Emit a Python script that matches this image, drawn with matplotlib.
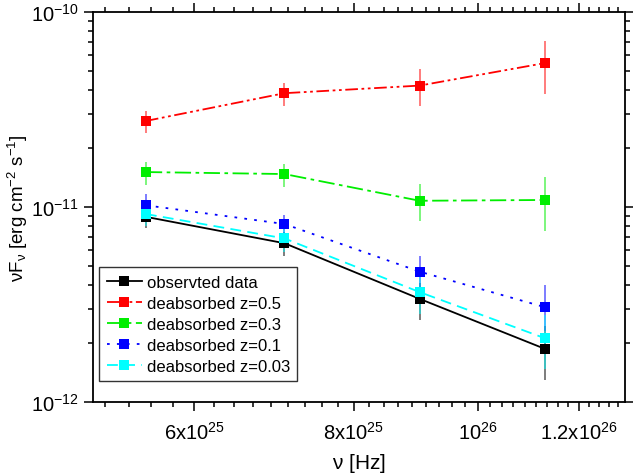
#
# nuFnu spectrum, observed and deabsorbed (log-log)
#
import matplotlib
matplotlib.use('Agg')
import matplotlib.pyplot as plt
from matplotlib.ticker import FixedLocator, FixedFormatter, NullFormatter
from matplotlib.colors import to_rgba
import numpy as np

plt.rcParams['font.family'] = ['Liberation Sans', 'DejaVu Sans']
plt.rcParams['mathtext.fontset'] = 'custom'
plt.rcParams['mathtext.rm'] = 'Liberation Sans'
plt.rcParams['mathtext.it'] = 'Liberation Sans:italic'
plt.rcParams['mathtext.default'] = 'regular'

#
# data
#
freq = [5.50e25, 7.06e25, 9.01e25, 1.13e26]

obs = [8.9e-12, 6.52e-12, 3.38e-12, 1.87e-12]
obs_lo = [7.8e-12, 5.63e-12, 2.63e-12, 1.30e-12]
obs_hi = [1.02e-11, 7.41e-12, 4.1e-12, 2.46e-12]

z05 = [2.76e-11, 3.83e-11, 4.19e-11, 5.47e-11]
z05_lo = [2.39e-11, 3.28e-11, 3.28e-11, 3.79e-11]
z05_hi = [3.12e-11, 4.33e-11, 5.11e-11, 7.13e-11]

z03 = [1.51e-11, 1.475e-11, 1.076e-11, 1.086e-11]
z03_lo = [1.30e-11, 1.27e-11, 8.45e-12, 7.50e-12]
z03_hi = [1.71e-11, 1.67e-11, 1.31e-11, 1.42e-11]

z01 = [1.02e-11, 8.18e-12, 4.66e-12, 3.06e-12]
z01_lo = [8.9e-12, 7.3e-12, 3.8e-12, 2.3e-12]
z01_hi = [1.17e-11, 9.12e-12, 5.62e-12, 3.98e-12]

z003 = [9.2e-12, 6.90e-12, 3.66e-12, 2.12e-12]
z003_lo = [8.0e-12, 5.90e-12, 2.83e-12, 1.47e-12]
z003_hi = [1.06e-11, 7.9e-12, 4.5e-12, 2.79e-12]

labels = ['observted data', 'deabsorbed z=0.5', 'deabsorbed z=0.3',
          'deabsorbed z=0.1', 'deabsorbed z=0.03']

xticks = [6e25, 8e25, 1e26, 1.2e26]
xticklabels = [r'6x10$^{25}$', r'8x10$^{25}$', r'10$^{26}$', r'1.2x10$^{26}$']
yticks = [1e-12, 1e-11, 1e-10]
yticklabels = [r'10$^{-12}$', r'10$^{-11}$', r'10$^{-10}$']

#
# figure
#
fig = plt.figure(figsize=(6.33, 4.77), dpi=100)
ax = fig.add_axes([0.147, 0.155, 0.840, 0.818])

series = [
    (obs, obs_lo, obs_hi, 'black', '-'),
    (z05, z05_lo, z05_hi, '#ff0000', (0, (7, 2, 1.5, 2, 1.5, 2))),
    (z03, z03_lo, z03_hi, '#00ee00', (0, (9, 2.5, 2, 2.5))),
    (z01, z01_lo, z01_hi, '#0000ff', (0, (1.5, 4))),
    (z003, z003_lo, z003_hi, '#00ffff', (0, (6, 3.5))),
]

handles = []
for (y, lo, hi, c, ls), lab in zip(series, labels):
    y = np.array(y)
    err = [y - np.array(lo), np.array(hi) - y]
    cont = ax.errorbar(freq, y, yerr=err, color=c, linestyle=ls, linewidth=1.3,
                       marker='s', markersize=7.5, markeredgewidth=0,
                       ecolor=to_rgba(c, 0.6), elinewidth=1.2, capsize=3,
                       capthick=1.2, label=lab)
    handles.append(cont[0])

ax.set_xscale('log')
ax.set_yscale('log')
ax.set_xlim(5.0e25, 1.304e26)
ax.set_ylim(1e-12, 1e-10)

ax.xaxis.set_major_locator(FixedLocator(xticks))
ax.xaxis.set_major_formatter(FixedFormatter(xticklabels))
ax.xaxis.set_minor_locator(FixedLocator(np.arange(4.0e25, 1.4e26, 2e25 / 9)))
ax.xaxis.set_minor_formatter(NullFormatter())
ax.yaxis.set_major_locator(FixedLocator(yticks))
ax.yaxis.set_major_formatter(FixedFormatter(yticklabels))

ax.tick_params(which='both', direction='out', top=True, right=True,
               labelsize=14.5, width=1.1)
ax.tick_params(which='major', length=6.5)
ax.tick_params(which='minor', length=3.5)
ax.tick_params(axis='x', pad=7)
for s in ax.spines.values():
    s.set_linewidth(1.3)

ax.set_xlabel(r'$\nu$ [Hz]', fontsize=15, labelpad=6)
ax.set_ylabel(r'$\nu$F$_{\nu}$ [erg cm$^{-2}$ s$^{-1}$]', fontsize=13.5, labelpad=1)

leg = ax.legend(handles=handles, labels=labels, loc='lower left',
                bbox_to_anchor=(0.002, 0.04), fontsize=12,
                numpoints=1, handlelength=2.1, handletextpad=0.3,
                labelspacing=0.36, borderpad=0.45, fancybox=False,
                framealpha=1, borderaxespad=0.3)
leg.get_frame().set_edgecolor('#333333')
leg.get_frame().set_linewidth(1.0)

plt.savefig('out.png', dpi=100)
